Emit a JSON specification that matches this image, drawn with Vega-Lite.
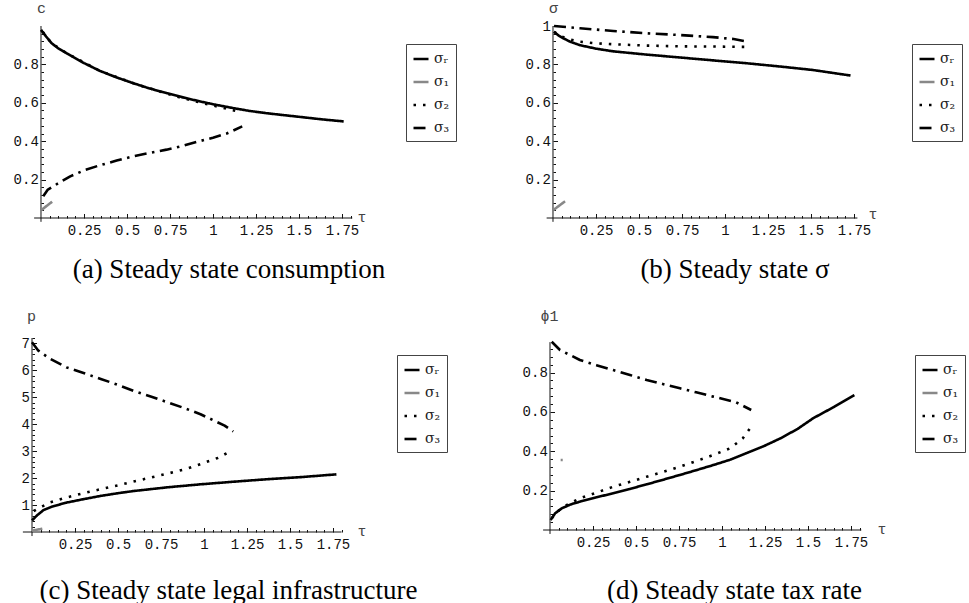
{
  "$schema": "https://vega.github.io/schema/vega-lite/v6.json",
  "padding": {"left": 13, "top": 0, "right": 0, "bottom": 0},
  "background": "white",
  "config": {
    "view": {"stroke": null},
    "axis": {"grid": false, "domain": false, "labelFont": "Liberation Mono", "labelFontSize": 14, "labelColor": "#111", "tickColor": "#111", "tickWidth": 1, "titleFont": "Liberation Mono", "titleFontSize": 15, "titleFontWeight": "normal", "titleColor": "#444", "labelFlush": false, "labelOverlap": false, "labelBound": false},
    "title": {"orient": "bottom", "anchor": "middle", "frame": "group", "font": "Liberation Serif", "fontSize": 27, "fontWeight": "normal", "color": "#000", "baseline": "alphabetic"},
    "legend": {"title": null, "orient": "none", "strokeColor": "#444", "fillColor": "white", "padding": 6, "symbolSize": 225, "symbolType": "stroke", "labelFont": "DejaVu Serif", "labelFontSize": 14, "labelColor": "#222", "rowPadding": 7, "labelOffset": 4}
  },
  "datasets": {
    "curves": [
      {"p":"a","s":"σᵣ","t":0,"v":0.98},{"p":"a","s":"σᵣ","t":0.03,"v":0.945},{"p":"a","s":"σᵣ","t":0.062,"v":0.91},{"p":"a","s":"σᵣ","t":0.1,"v":0.884},{"p":"a","s":"σᵣ","t":0.149,"v":0.858},{"p":"a","s":"σᵣ","t":0.25,"v":0.807},{"p":"a","s":"σᵣ","t":0.343,"v":0.766},{"p":"a","s":"σᵣ","t":0.44,"v":0.732},{"p":"a","s":"σᵣ","t":0.537,"v":0.702},{"p":"a","s":"σᵣ","t":0.63,"v":0.675},{"p":"a","s":"σᵣ","t":0.733,"v":0.65},{"p":"a","s":"σᵣ","t":0.83,"v":0.627},{"p":"a","s":"σᵣ","t":0.926,"v":0.607},{"p":"a","s":"σᵣ","t":1.02,"v":0.589},{"p":"a","s":"σᵣ","t":1.12,"v":0.572},{"p":"a","s":"σᵣ","t":1.21,"v":0.558},{"p":"a","s":"σᵣ","t":1.31,"v":0.546},{"p":"a","s":"σᵣ","t":1.41,"v":0.536},{"p":"a","s":"σᵣ","t":1.51,"v":0.526},{"p":"a","s":"σᵣ","t":1.63,"v":0.514},{"p":"a","s":"σᵣ","t":1.76,"v":0.503},
      {"p":"a","s":"σ₁","t":0,"v":0.04},{"p":"a","s":"σ₁","t":0.065,"v":0.085},
      {"p":"a","s":"σ₂","t":0.01,"v":0.97},{"p":"a","s":"σ₂","t":0.062,"v":0.91},{"p":"a","s":"σ₂","t":0.149,"v":0.858},{"p":"a","s":"σ₂","t":0.343,"v":0.766},{"p":"a","s":"σ₂","t":0.537,"v":0.702},{"p":"a","s":"σ₂","t":0.7,"v":0.656},{"p":"a","s":"σ₂","t":0.8,"v":0.63},{"p":"a","s":"σ₂","t":0.9,"v":0.607},{"p":"a","s":"σ₂","t":1.0,"v":0.586},{"p":"a","s":"σ₂","t":1.08,"v":0.569},{"p":"a","s":"σ₂","t":1.14,"v":0.556},
      {"p":"a","s":"σ₃","t":0.013,"v":0.113},{"p":"a","s":"σ₃","t":0.04,"v":0.148},{"p":"a","s":"σ₃","t":0.11,"v":0.186},{"p":"a","s":"σ₃","t":0.17,"v":0.217},{"p":"a","s":"σ₃","t":0.25,"v":0.248},{"p":"a","s":"σ₃","t":0.34,"v":0.274},{"p":"a","s":"σ₃","t":0.44,"v":0.299},{"p":"a","s":"σ₃","t":0.535,"v":0.321},{"p":"a","s":"σ₃","t":0.63,"v":0.339},{"p":"a","s":"σ₃","t":0.73,"v":0.356},{"p":"a","s":"σ₃","t":0.83,"v":0.377},{"p":"a","s":"σ₃","t":0.92,"v":0.4},{"p":"a","s":"σ₃","t":1.0,"v":0.418},{"p":"a","s":"σ₃","t":1.08,"v":0.44},{"p":"a","s":"σ₃","t":1.17,"v":0.477},

      {"p":"b","s":"σᵣ","t":0.006,"v":0.97},{"p":"b","s":"σᵣ","t":0.03,"v":0.952},{"p":"b","s":"σᵣ","t":0.06,"v":0.936},{"p":"b","s":"σᵣ","t":0.1,"v":0.918},{"p":"b","s":"σᵣ","t":0.157,"v":0.9},{"p":"b","s":"σᵣ","t":0.25,"v":0.882},{"p":"b","s":"σᵣ","t":0.35,"v":0.868},{"p":"b","s":"σᵣ","t":0.545,"v":0.851},{"p":"b","s":"σᵣ","t":0.738,"v":0.836},{"p":"b","s":"σᵣ","t":0.93,"v":0.821},{"p":"b","s":"σᵣ","t":1.126,"v":0.806},{"p":"b","s":"σᵣ","t":1.32,"v":0.789},{"p":"b","s":"σᵣ","t":1.51,"v":0.771},{"p":"b","s":"σᵣ","t":1.73,"v":0.742},
      {"p":"b","s":"σ₁","t":0,"v":0.04},{"p":"b","s":"σ₁","t":0.07,"v":0.087},
      {"p":"b","s":"σ₂","t":0.006,"v":0.97},{"p":"b","s":"σ₂","t":0.05,"v":0.945},{"p":"b","s":"σ₂","t":0.1,"v":0.93},{"p":"b","s":"σ₂","t":0.157,"v":0.918},{"p":"b","s":"σ₂","t":0.25,"v":0.91},{"p":"b","s":"σ₂","t":0.35,"v":0.905},{"p":"b","s":"σ₂","t":0.545,"v":0.898},{"p":"b","s":"σ₂","t":0.738,"v":0.894},{"p":"b","s":"σ₂","t":0.93,"v":0.893},{"p":"b","s":"σ₂","t":1.136,"v":0.891},
      {"p":"b","s":"σ₃","t":0.006,"v":1.0},{"p":"b","s":"σ₃","t":0.157,"v":0.988},{"p":"b","s":"σ₃","t":0.35,"v":0.974},{"p":"b","s":"σ₃","t":0.545,"v":0.962},{"p":"b","s":"σ₃","t":0.738,"v":0.953},{"p":"b","s":"σ₃","t":0.93,"v":0.942},{"p":"b","s":"σ₃","t":1.05,"v":0.932},{"p":"b","s":"σ₃","t":1.136,"v":0.918},

      {"p":"c","s":"σᵣ","t":0,"v":0.43},{"p":"c","s":"σᵣ","t":0.03,"v":0.62},{"p":"c","s":"σᵣ","t":0.066,"v":0.81},{"p":"c","s":"σᵣ","t":0.12,"v":0.95},{"p":"c","s":"σᵣ","t":0.2,"v":1.09},{"p":"c","s":"σᵣ","t":0.3,"v":1.22},{"p":"c","s":"σᵣ","t":0.4,"v":1.34},{"p":"c","s":"σᵣ","t":0.5,"v":1.44},{"p":"c","s":"σᵣ","t":0.59,"v":1.52},{"p":"c","s":"σᵣ","t":0.79,"v":1.66},{"p":"c","s":"σᵣ","t":0.98,"v":1.77},{"p":"c","s":"σᵣ","t":1.18,"v":1.87},{"p":"c","s":"σᵣ","t":1.37,"v":1.96},{"p":"c","s":"σᵣ","t":1.57,"v":2.04},{"p":"c","s":"σᵣ","t":1.77,"v":2.14},
      {"p":"c","s":"σ₁","t":0,"v":0.05},{"p":"c","s":"σ₁","t":0.06,"v":0.12},
      {"p":"c","s":"σ₂","t":0.01,"v":0.78},{"p":"c","s":"σ₂","t":0.06,"v":0.95},{"p":"c","s":"σ₂","t":0.105,"v":1.1},{"p":"c","s":"σ₂","t":0.2,"v":1.28},{"p":"c","s":"σ₂","t":0.3,"v":1.44},{"p":"c","s":"σ₂","t":0.4,"v":1.59},{"p":"c","s":"σ₂","t":0.5,"v":1.73},{"p":"c","s":"σ₂","t":0.59,"v":1.87},{"p":"c","s":"σ₂","t":0.69,"v":2.02},{"p":"c","s":"σ₂","t":0.79,"v":2.17},{"p":"c","s":"σ₂","t":0.89,"v":2.33},{"p":"c","s":"σ₂","t":0.98,"v":2.52},{"p":"c","s":"σ₂","t":1.08,"v":2.75},{"p":"c","s":"σ₂","t":1.14,"v":2.95},
      {"p":"c","s":"σ₃","t":0,"v":7.04},{"p":"c","s":"σ₃","t":0.037,"v":6.73},{"p":"c","s":"σ₃","t":0.1,"v":6.45},{"p":"c","s":"σ₃","t":0.2,"v":6.11},{"p":"c","s":"σ₃","t":0.3,"v":5.9},{"p":"c","s":"σ₃","t":0.4,"v":5.68},{"p":"c","s":"σ₃","t":0.5,"v":5.46},{"p":"c","s":"σ₃","t":0.59,"v":5.24},{"p":"c","s":"σ₃","t":0.69,"v":5.03},{"p":"c","s":"σ₃","t":0.79,"v":4.81},{"p":"c","s":"σ₃","t":0.89,"v":4.59},{"p":"c","s":"σ₃","t":0.98,"v":4.37},{"p":"c","s":"σ₃","t":1.06,"v":4.13},{"p":"c","s":"σ₃","t":1.12,"v":3.95},{"p":"c","s":"σ₃","t":1.17,"v":3.73},

      {"p":"d","s":"σᵣ","t":0.004,"v":0.051},{"p":"d","s":"σᵣ","t":0.03,"v":0.085},{"p":"d","s":"σᵣ","t":0.068,"v":0.11},{"p":"d","s":"σᵣ","t":0.12,"v":0.13},{"p":"d","s":"σᵣ","t":0.174,"v":0.144},{"p":"d","s":"σᵣ","t":0.27,"v":0.166},{"p":"d","s":"σᵣ","t":0.368,"v":0.187},{"p":"d","s":"σᵣ","t":0.465,"v":0.209},{"p":"d","s":"σᵣ","t":0.562,"v":0.232},{"p":"d","s":"σᵣ","t":0.66,"v":0.256},{"p":"d","s":"σᵣ","t":0.756,"v":0.28},{"p":"d","s":"σᵣ","t":0.85,"v":0.304},{"p":"d","s":"σᵣ","t":0.949,"v":0.33},{"p":"d","s":"σᵣ","t":1.05,"v":0.358},{"p":"d","s":"σᵣ","t":1.14,"v":0.39},{"p":"d","s":"σᵣ","t":1.24,"v":0.425},{"p":"d","s":"σᵣ","t":1.34,"v":0.466},{"p":"d","s":"σᵣ","t":1.44,"v":0.514},{"p":"d","s":"σᵣ","t":1.53,"v":0.568},{"p":"d","s":"σᵣ","t":1.65,"v":0.625},{"p":"d","s":"σᵣ","t":1.77,"v":0.686},
      {"p":"d","s":"σ₁","t":0.062,"v":0.356},{"p":"d","s":"σ₁","t":0.074,"v":0.356},
      {"p":"d","s":"σ₂","t":0.01,"v":0.06},{"p":"d","s":"σ₂","t":0.04,"v":0.09},{"p":"d","s":"σ₂","t":0.077,"v":0.118},{"p":"d","s":"σ₂","t":0.174,"v":0.161},{"p":"d","s":"σ₂","t":0.27,"v":0.19},{"p":"d","s":"σ₂","t":0.368,"v":0.22},{"p":"d","s":"σ₂","t":0.465,"v":0.245},{"p":"d","s":"σ₂","t":0.562,"v":0.271},{"p":"d","s":"σ₂","t":0.66,"v":0.296},{"p":"d","s":"σ₂","t":0.756,"v":0.322},{"p":"d","s":"σ₂","t":0.85,"v":0.35},{"p":"d","s":"σ₂","t":0.949,"v":0.381},{"p":"d","s":"σ₂","t":1.047,"v":0.415},{"p":"d","s":"σ₂","t":1.12,"v":0.465},{"p":"d","s":"σ₂","t":1.17,"v":0.525},
      {"p":"d","s":"σ₃","t":0.01,"v":0.957},{"p":"d","s":"σ₃","t":0.058,"v":0.915},{"p":"d","s":"σ₃","t":0.174,"v":0.864},{"p":"d","s":"σ₃","t":0.27,"v":0.838},{"p":"d","s":"σ₃","t":0.368,"v":0.813},{"p":"d","s":"σ₃","t":0.465,"v":0.788},{"p":"d","s":"σ₃","t":0.562,"v":0.763},{"p":"d","s":"σ₃","t":0.66,"v":0.741},{"p":"d","s":"σ₃","t":0.756,"v":0.72},{"p":"d","s":"σ₃","t":0.85,"v":0.7},{"p":"d","s":"σ₃","t":0.949,"v":0.678},{"p":"d","s":"σ₃","t":1.08,"v":0.65},{"p":"d","s":"σ₃","t":1.17,"v":0.61}
    ]
  },
  "concat": [
    {
      "width": 322, "height": 192,
      "title": {"text": "(a) Steady state consumption", "dx": 36, "offset": 19},
      "layer": [
        {"data": {"values": [{}]}, "mark": {"type": "rule", "color": "#111", "strokeWidth": 1},
         "encoding": {
           "x": {"datum": -0.04, "type": "quantitative", "scale": {"domain": [-0.0523, 1.82], "nice": false, "zero": false},
                 "axis": {"orient": "bottom", "values": [0.25,0.5,0.75,1,1.25,1.5,1.75], "labelExpr": "'' + datum.value", "tickSize": -4.5, "labelPadding": 10, "title": "τ", "titleX": 325, "titleY": 3, "titleAlign": "left", "titleBaseline": "alphabetic", "titleAngle": 0}},
           "x2": {"datum": 1.81},
           "y": {"datum": 0, "type": "quantitative", "scale": {"domain": [0, 1], "nice": false, "zero": false},
                 "axis": {"orient": "left", "offset": -9, "values": [0.2,0.4,0.6,0.8], "labelExpr": "'' + datum.value", "tickSize": -4.5, "labelPadding": 7.2, "title": "c", "titleX": 0, "titleY": -14, "titleAngle": 0, "titleAlign": "center", "titleBaseline": "alphabetic"}}
         }},
        {"data": {"values": [{}]}, "mark": {"type": "rule", "color": "#111", "strokeWidth": 1},
         "encoding": {
           "x": {"datum": 0, "type": "quantitative", "scale": {"domain": [-0.0523, 1.82], "nice": false, "zero": false},
                 "axis": {"orient": "bottom", "values": [0.05,0.1,0.15,0.2,0.3,0.35,0.4,0.45,0.55,0.6,0.65,0.7,0.8,0.85,0.9,0.95,1.05,1.1,1.15,1.2,1.3,1.35,1.4,1.45,1.55,1.6,1.65,1.7,1.8], "labels": false, "tickSize": -2.5, "title": null}},
           "y": {"datum": -0.02, "type": "quantitative", "scale": {"domain": [0, 1], "nice": false, "zero": false},
                 "axis": {"orient": "left", "offset": -9, "values": [0.04,0.08,0.12,0.16,0.24,0.28,0.32,0.36,0.44,0.48,0.52,0.56,0.64,0.68,0.72,0.76,0.84,0.88,0.92,0.96], "labels": false, "tickSize": -2.5, "title": null}},
           "y2": {"datum": 1}
         }},
        {"data": {"name": "curves"}, "transform": [{"filter": "datum.p == 'a'"}],
         "mark": {"type": "line", "strokeJoin": "round"},
         "encoding": {
           "x": {"field": "t", "type": "quantitative", "scale": {"domain": [-0.0523, 1.82], "nice": false, "zero": false}, "axis": null},
           "y": {"field": "v", "type": "quantitative", "scale": {"domain": [0, 1], "nice": false, "zero": false}, "axis": null},
           "color": {"field": "s", "type": "nominal", "scale": {"domain": ["σᵣ","σ₁","σ₂","σ₃"], "range": ["#000000","#888888","#000000","#000000"]}, "legend": {"legendX": 374, "legendY": 18}},
           "strokeDash": {"field": "s", "type": "nominal", "scale": {"domain": ["σᵣ","σ₁","σ₂","σ₃"], "range": [[1,0],[1,0],[2.5,7],[12,5.5,2.5,5.5]]}, "legend": {"legendX": 374, "legendY": 18}},
           "strokeWidth": {"field": "s", "type": "ordinal", "scale": {"domain": ["σᵣ","σ₁","σ₂","σ₃"], "range": [2.6,2.6,2.2,2.4]}, "legend": {"legendX": 374, "legendY": 18}}
         }}
      ],
      "resolve": {"axis": {"x": "independent", "y": "independent"}}
    },
    {
      "width": 316, "height": 192,
      "title": {"text": "(b) Steady state σ", "dx": 27, "offset": 19},
      "layer": [
        {"data": {"values": [{}]}, "mark": {"type": "rule", "color": "#111", "strokeWidth": 1},
         "encoding": {
           "x": {"datum": -0.037, "type": "quantitative", "scale": {"domain": [-0.0174, 1.82], "nice": false, "zero": false},
                 "axis": {"orient": "bottom", "values": [0.25,0.5,0.75,1,1.25,1.5,1.75], "labelExpr": "'' + datum.value", "tickSize": -4.5, "labelPadding": 10, "title": "τ", "titleX": 318, "titleY": 0, "titleAlign": "left", "titleBaseline": "alphabetic", "titleAngle": 0}},
           "x2": {"datum": 1.77},
           "y": {"datum": 0, "type": "quantitative", "scale": {"domain": [0, 1], "nice": false, "zero": false},
                 "axis": {"orient": "left", "offset": -3, "values": [0.2,0.4,0.6,0.8,1], "labelExpr": "'' + datum.value", "tickSize": -4.5, "labelPadding": 7.2, "title": "σ", "titleX": 0, "titleY": -14, "titleAngle": 0, "titleAlign": "center", "titleBaseline": "alphabetic"}}
         }},
        {"data": {"values": [{}]}, "mark": {"type": "rule", "color": "#111", "strokeWidth": 1},
         "encoding": {
           "x": {"datum": 0, "type": "quantitative", "scale": {"domain": [-0.0174, 1.82], "nice": false, "zero": false},
                 "axis": {"orient": "bottom", "values": [0.05,0.1,0.15,0.2,0.3,0.35,0.4,0.45,0.55,0.6,0.65,0.7,0.8,0.85,0.9,0.95,1.05,1.1,1.15,1.2,1.3,1.35,1.4,1.45,1.55,1.6,1.65,1.7], "labels": false, "tickSize": -2.5, "title": null}},
           "y": {"datum": -0.02, "type": "quantitative", "scale": {"domain": [0, 1], "nice": false, "zero": false},
                 "axis": {"orient": "left", "offset": -3, "values": [0.04,0.08,0.12,0.16,0.24,0.28,0.32,0.36,0.44,0.48,0.52,0.56,0.64,0.68,0.72,0.76,0.84,0.88,0.92,0.96], "labels": false, "tickSize": -2.5, "title": null}},
           "y2": {"datum": 1}
         }},
        {"data": {"name": "curves"}, "transform": [{"filter": "datum.p == 'b'"}],
         "mark": {"type": "line", "strokeJoin": "round"},
         "encoding": {
           "x": {"field": "t", "type": "quantitative", "scale": {"domain": [-0.0174, 1.82], "nice": false, "zero": false}, "axis": null},
           "y": {"field": "v", "type": "quantitative", "scale": {"domain": [0, 1], "nice": false, "zero": false}, "axis": null},
           "color": {"field": "s", "type": "nominal", "scale": {"domain": ["σᵣ","σ₁","σ₂","σ₃"], "range": ["#000000","#888888","#000000","#000000"]}, "legend": {"legendX": 362, "legendY": 18}},
           "strokeDash": {"field": "s", "type": "nominal", "scale": {"domain": ["σᵣ","σ₁","σ₂","σ₃"], "range": [[1,0],[1,0],[2.5,7],[12,5.5,2.5,5.5]]}, "legend": {"legendX": 362, "legendY": 18}},
           "strokeWidth": {"field": "s", "type": "ordinal", "scale": {"domain": ["σᵣ","σ₁","σ₂","σ₃"], "range": [2.6,2.6,2.2,2.4]}, "legend": {"legendX": 362, "legendY": 18}}
         }}
      ],
      "resolve": {"axis": {"x": "independent", "y": "independent"}}
    },
    {
      "width": 313, "height": 194,
      "title": {"text": "(c) Steady state legal infrastructure", "dx": 40, "offset": 26},
      "layer": [
        {"data": {"values": [{}]}, "mark": {"type": "rule", "color": "#111", "strokeWidth": 1},
         "encoding": {
           "x": {"datum": -0.053, "type": "quantitative", "scale": {"domain": [0, 1.82], "nice": false, "zero": false},
                 "axis": {"orient": "bottom", "values": [0.25,0.5,0.75,1,1.25,1.5,1.75], "labelExpr": "'' + datum.value", "tickSize": -4.5, "labelPadding": 10, "title": "τ", "titleX": 325, "titleY": 3, "titleAlign": "left", "titleBaseline": "alphabetic", "titleAngle": 0}},
           "x2": {"datum": 1.8},
           "y": {"datum": 0, "type": "quantitative", "scale": {"domain": [0, 7.2], "nice": false, "zero": false},
                 "axis": {"orient": "left", "values": [1,2,3,4,5,6,7], "labelExpr": "'' + datum.value", "tickSize": -4.5, "labelPadding": 7.2, "title": "p", "titleX": -1, "titleY": -18, "titleAngle": 0, "titleAlign": "center", "titleBaseline": "alphabetic"}}
         }},
        {"data": {"values": [{}]}, "mark": {"type": "rule", "color": "#111", "strokeWidth": 1},
         "encoding": {
           "x": {"datum": 0, "type": "quantitative", "scale": {"domain": [0, 1.82], "nice": false, "zero": false},
                 "axis": {"orient": "bottom", "values": [0.05,0.1,0.15,0.2,0.3,0.35,0.4,0.45,0.55,0.6,0.65,0.7,0.8,0.85,0.9,0.95,1.05,1.1,1.15,1.2,1.3,1.35,1.4,1.45,1.55,1.6,1.65,1.7,1.8], "labels": false, "tickSize": -2.5, "title": null}},
           "y": {"datum": -0.15, "type": "quantitative", "scale": {"domain": [0, 7.2], "nice": false, "zero": false},
                 "axis": {"orient": "left", "values": [0.2,0.4,0.6,0.8,1.2,1.4,1.6,1.8,2.2,2.4,2.6,2.8,3.2,3.4,3.6,3.8,4.2,4.4,4.6,4.8,5.2,5.4,5.6,5.8,6.2,6.4,6.6,6.8,7.2], "labels": false, "tickSize": -2.5, "title": null}},
           "y2": {"datum": 7.2}
         }},
        {"data": {"name": "curves"}, "transform": [{"filter": "datum.p == 'c'"}],
         "mark": {"type": "line", "strokeJoin": "round"},
         "encoding": {
           "x": {"field": "t", "type": "quantitative", "scale": {"domain": [0, 1.82], "nice": false, "zero": false}, "axis": null},
           "y": {"field": "v", "type": "quantitative", "scale": {"domain": [0, 7.2], "nice": false, "zero": false}, "axis": null},
           "color": {"field": "s", "type": "nominal", "scale": {"domain": ["σᵣ","σ₁","σ₂","σ₃"], "range": ["#000000","#888888","#000000","#000000"]}, "legend": {"legendX": 365, "legendY": 17}},
           "strokeDash": {"field": "s", "type": "nominal", "scale": {"domain": ["σᵣ","σ₁","σ₂","σ₃"], "range": [[1,0],[1,0],[2.5,7],[12,5.5,2.5,5.5]]}, "legend": {"legendX": 365, "legendY": 17}},
           "strokeWidth": {"field": "s", "type": "ordinal", "scale": {"domain": ["σᵣ","σ₁","σ₂","σ₃"], "range": [2.6,2.6,2.2,2.4]}, "legend": {"legendX": 365, "legendY": 17}}
         }}
      ],
      "resolve": {"axis": {"x": "independent", "y": "independent"}}
    },
    {
      "width": 313, "height": 192,
      "title": {"text": "(d) Steady state tax rate", "dx": 28, "offset": 28},
      "layer": [
        {"data": {"values": [{}]}, "mark": {"type": "rule", "color": "#111", "strokeWidth": 1},
         "encoding": {
           "x": {"datum": -0.04, "type": "quantitative", "scale": {"domain": [0, 1.82], "nice": false, "zero": false},
                 "axis": {"orient": "bottom", "values": [0.25,0.5,0.75,1,1.25,1.5,1.75], "labelExpr": "'' + datum.value", "tickSize": -4.5, "labelPadding": 10, "title": "τ", "titleX": 327, "titleY": 3, "titleAlign": "left", "titleBaseline": "alphabetic", "titleAngle": 0}},
           "x2": {"datum": 1.81},
           "y": {"datum": 0, "type": "quantitative", "scale": {"domain": [0, 0.976], "nice": false, "zero": false},
                 "axis": {"orient": "left", "values": [0.2,0.4,0.6,0.8], "labelExpr": "'' + datum.value", "tickSize": -4.5, "labelPadding": 7.2, "title": "ϕ1", "titleX": -1, "titleY": -18, "titleAngle": 0, "titleAlign": "center", "titleBaseline": "alphabetic"}}
         }},
        {"data": {"values": [{}]}, "mark": {"type": "rule", "color": "#111", "strokeWidth": 1},
         "encoding": {
           "x": {"datum": 0, "type": "quantitative", "scale": {"domain": [0, 1.82], "nice": false, "zero": false},
                 "axis": {"orient": "bottom", "values": [0.05,0.1,0.15,0.2,0.3,0.35,0.4,0.45,0.55,0.6,0.65,0.7,0.8,0.85,0.9,0.95,1.05,1.1,1.15,1.2,1.3,1.35,1.4,1.45,1.55,1.6,1.65,1.7,1.8], "labels": false, "tickSize": -2.5, "title": null}},
           "y": {"datum": -0.02, "type": "quantitative", "scale": {"domain": [0, 0.976], "nice": false, "zero": false},
                 "axis": {"orient": "left", "values": [0.04,0.08,0.12,0.16,0.24,0.28,0.32,0.36,0.44,0.48,0.52,0.56,0.64,0.68,0.72,0.76,0.84,0.88,0.92], "labels": false, "tickSize": -2.5, "title": null}},
           "y2": {"datum": 0.955}
         }},
        {"data": {"name": "curves"}, "transform": [{"filter": "datum.p == 'd'"}],
         "mark": {"type": "line", "strokeJoin": "round"},
         "encoding": {
           "x": {"field": "t", "type": "quantitative", "scale": {"domain": [0, 1.82], "nice": false, "zero": false}, "axis": null},
           "y": {"field": "v", "type": "quantitative", "scale": {"domain": [0, 0.976], "nice": false, "zero": false}, "axis": null},
           "color": {"field": "s", "type": "nominal", "scale": {"domain": ["σᵣ","σ₁","σ₂","σ₃"], "range": ["#000000","#888888","#000000","#000000"]}, "legend": {"legendX": 365, "legendY": 17}},
           "strokeDash": {"field": "s", "type": "nominal", "scale": {"domain": ["σᵣ","σ₁","σ₂","σ₃"], "range": [[1,0],[1,0],[2.5,7],[12,5.5,2.5,5.5]]}, "legend": {"legendX": 365, "legendY": 17}},
           "strokeWidth": {"field": "s", "type": "ordinal", "scale": {"domain": ["σᵣ","σ₁","σ₂","σ₃"], "range": [2.6,2.6,2.2,2.4]}, "legend": {"legendX": 365, "legendY": 17}}
         }}
      ],
      "resolve": {"axis": {"x": "independent", "y": "independent"}}
    }
  ],
  "columns": 2,
  "bounds": "flush",
  "spacing": {"row": 120, "column": 196},
  "resolve": {"scale": {"color": "independent", "strokeDash": "independent", "strokeWidth": "independent"}, "legend": {"color": "independent", "strokeDash": "independent", "strokeWidth": "independent"}}
}
